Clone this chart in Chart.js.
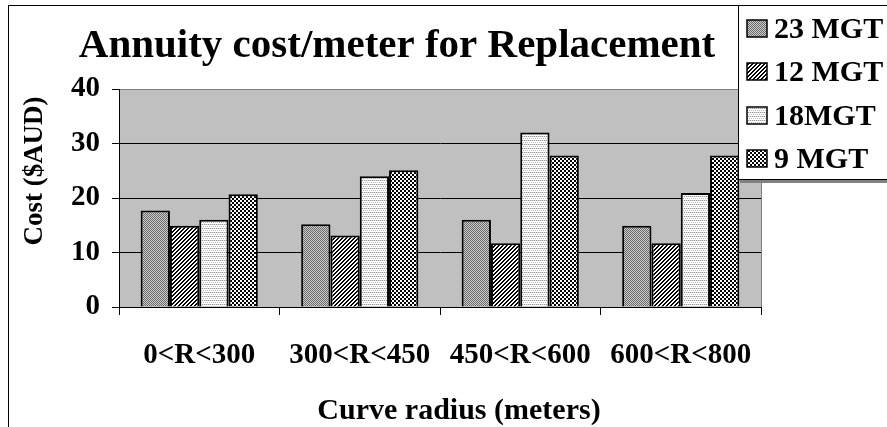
<!DOCTYPE html>
<html>
<head>
<meta charset="utf-8">
<script src="https://cdn.jsdelivr.net/npm/chart.js@4/dist/chart.umd.min.js"></script>
<style>
  body { margin: 0; background: #fff; }
  #wrap { width: 887px; height: 427px; position: relative; }
</style>
</head>
<body>
<div id="wrap"><canvas id="chart"></canvas></div>
<script>
// datos
const categories = ['0<R<300', '300<R<450', '450<R<600', '600<R<800'];
const series_names = ['23 MGT', '12 MGT', '18MGT', '9 MGT'];
const mgt_23 = [17.7, 15.2, 16.0, 14.9];
const mgt_12 = [14.9, 13.1, 11.7, 11.7];
const mgt_18 = [16.0, 24.0, 32.0, 20.9];
const mgt_9 = [20.7, 25.1, 27.8, 27.8];
const y_ticks = [0, 10, 20, 30, 40];

const serif = '"Liberation Serif", "Times New Roman", serif';

// patrones de relleno tipo Excel
function make_pattern(size, draw) {
  const c = document.createElement('canvas');
  c.width = size; c.height = size;
  const g = c.getContext('2d');
  draw(g);
  return document.getElementById('chart').getContext('2d').createPattern(c, 'repeat');
}

const pattern_23 = make_pattern(2, g => { // punteado gris
  g.fillStyle = '#cccccc'; g.fillRect(0, 0, 2, 2);
  g.fillStyle = '#6a6a6a'; g.fillRect(0, 0, 1, 1); g.fillRect(1, 1, 1, 1);
});
const pattern_12 = make_pattern(4, g => { // diagonal
  g.fillStyle = '#fff'; g.fillRect(0, 0, 4, 4);
  g.fillStyle = '#000';
  for (let i = 0; i < 4; i++) { g.fillRect(3 - i, i, 1, 1); g.fillRect((4 - i) % 4, i, 1, 1); }
});
const pattern_18 = make_pattern(4, g => { // horizontales claras
  g.fillStyle = '#fff'; g.fillRect(0, 0, 4, 4);
  g.fillStyle = '#999'; g.fillRect(0, 0, 1, 1); g.fillRect(2, 0, 1, 1);
  g.fillStyle = '#bbb'; g.fillRect(1, 2, 1, 1); g.fillRect(3, 2, 1, 1);
  g.fillStyle = '#ddd'; g.fillRect(1, 0, 1, 1); g.fillRect(3, 0, 1, 1);
});
const pattern_9 = make_pattern(4, g => { // cuadriculado
  g.fillStyle = '#000'; g.fillRect(0, 0, 4, 4);
  g.fillStyle = '#fff'; g.fillRect(0, 0, 2, 2); g.fillRect(2, 2, 2, 2);
});
const patterns = [pattern_23, pattern_12, pattern_18, pattern_9];

// fondo gris, borde exterior, titulos y leyenda
const decor_plugin = {
  id: 'decor',
  beforeDraw(chart) {
    const { ctx, chartArea: a } = chart;
    ctx.save();
    ctx.fillStyle = '#fff';
    ctx.fillRect(0, 0, chart.width, chart.height);
    ctx.strokeStyle = '#000';
    ctx.lineWidth = 1;
    ctx.strokeRect(8.5, 5.5, chart.width + 10, chart.height + 10);
    ctx.fillStyle = '#c0c0c0';
    ctx.fillRect(a.left, a.top, a.right - a.left, a.bottom - a.top);
    ctx.strokeStyle = '#808080';
    ctx.beginPath();
    ctx.moveTo(a.left, a.top + 0.5);
    ctx.lineTo(a.right + 0.5, a.top + 0.5);
    ctx.lineTo(a.right + 0.5, a.bottom);
    ctx.stroke();
    ctx.restore();
  },
  afterDraw(chart) {
    const ctx = chart.ctx;
    ctx.save();
    ctx.fillStyle = '#000';
    ctx.textAlign = 'center';
    ctx.textBaseline = 'alphabetic';
    ctx.font = 'bold 41px ' + serif;
    ctx.fillText('Annuity cost/meter for Replacement', 397, 57);
    ctx.font = 'bold 30px ' + serif;
    ctx.fillText('Curve radius (meters)', 459, 419);
    ctx.save();
    ctx.translate(42, 171);
    ctx.rotate(-Math.PI / 2);
    ctx.font = 'bold 27px ' + serif;
    ctx.fillText('Cost ($AUD)', 0, 0);
    ctx.restore();

    // leyenda
    ctx.fillStyle = '#808080';
    ctx.fillRect(740, 180, 160, 3);
    ctx.fillStyle = '#fff';
    ctx.fillRect(738.5, 5.5, 160, 174);
    ctx.strokeStyle = '#000';
    ctx.lineWidth = 1;
    ctx.strokeRect(738.5, 5.5, 160, 174);
    ctx.textAlign = 'left';
    ctx.font = 'bold 30px ' + serif;
    series_names.forEach((name, i) => {
      const base = 38 + i * 43.3;
      ctx.fillStyle = patterns[i];
      ctx.fillRect(747, Math.round(base) - 18, 20, 17);
      ctx.lineWidth = 1.5;
      ctx.strokeRect(747, Math.round(base) - 18, 20, 17);
      ctx.fillStyle = '#000';
      ctx.fillText(name, 774, base);
    });
    ctx.restore();
  }
};

const all_series = [mgt_23, mgt_12, mgt_18, mgt_9];

new Chart(document.getElementById('chart'), {
  type: 'bar',
  data: {
    labels: categories,
    datasets: all_series.map((values, i) => ({
      label: series_names[i],
      data: values,
      backgroundColor: patterns[i],
      borderColor: '#000',
      borderWidth: 2,
      categoryPercentage: 0.73,
      barPercentage: 1.0
    }))
  },
  options: {
    responsive: true,
    maintainAspectRatio: false,
    animation: false,
    layout: { padding: { left: 0, top: 89, right: 126, bottom: 0 } },
    plugins: {
      legend: { display: false },
      title: { display: false },
      tooltip: { enabled: false }
    },
    scales: {
      x: {
        afterFit: scale => { scale.height = 120; },
        border: { display: true, color: '#000', width: 1 },
        grid: { offset: true, drawOnChartArea: false, drawTicks: true, tickLength: 8, color: '#000' },
        ticks: {
          padding: 23,
          color: '#000',
          font: { family: serif, size: 29, weight: 'bold' }
        }
      },
      y: {
        min: 0,
        max: 40,
        afterFit: scale => { scale.width = 119; },
        afterBuildTicks: scale => { scale.ticks = y_ticks.map(v => ({ value: v })); },
        border: { display: true, color: '#000', width: 1 },
        grid: {
          color: c => (c.tick && c.tick.value === 40 ? '#808080' : '#000'),
          tickColor: '#000',
          tickLength: 7,
          drawTicks: true
        },
        ticks: {
          padding: 12,
          color: '#000',
          font: { family: serif, size: 29, weight: 'bold' }
        }
      }
    }
  },
  plugins: [decor_plugin]
});
</script>
</body>
</html>
